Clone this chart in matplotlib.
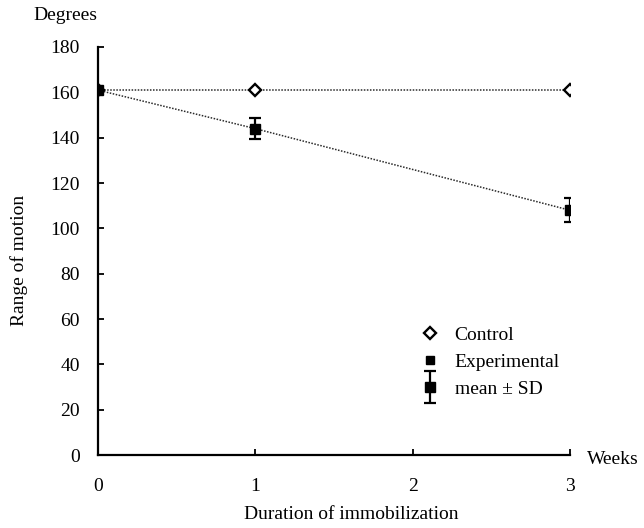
import matplotlib
matplotlib.use("Agg")
import matplotlib.pyplot as plt
from matplotlib.lines import Line2D
from matplotlib.legend_handler import HandlerErrorbar
from matplotlib.container import ErrorbarContainer

plt.rcParams['font.family'] = ['Liberation Serif', 'DejaVu Serif']

# data
weeks = [0, 1, 3]
control = [161, 161, 161]
experimental = [161, 144, 108]
experimental_sd = [0, 4.7, 5.4]
y_ticks = list(range(0, 181, 20))
x_ticks = [0, 1, 2, 3]

FS = 14

fig = plt.figure(figsize=(6.44, 5.28), dpi=100)
ax = fig.add_axes([0.152, 0.138, 0.733, 0.773])

dots = (0, (1, 1))
ax.plot(weeks, control, ls=dots, color='#2a2a2a', lw=1.1, zorder=1)
ax.plot(weeks, experimental, ls=dots, color='#2a2a2a', lw=1.1, zorder=1)

ax.plot(weeks, control, ls='none', marker='D', markersize=6,
        markerfacecolor='white', markeredgecolor='black', markeredgewidth=1.7, zorder=3)
eb = ax.errorbar(weeks, experimental, yerr=experimental_sd, fmt='s', color='black',
                 markersize=7.7, capsize=4.6, elinewidth=1.6, capthick=1.6,
                 errorevery=(1, 1), zorder=4)

ax.set_xlim(0, 3)
ax.set_ylim(0, 180)
ax.set_xticks(x_ticks)
ax.set_yticks(y_ticks)
for s in ['top', 'right']:
    ax.spines[s].set_visible(False)
for s in ['left', 'bottom']:
    ax.spines[s].set_linewidth(1.6)
ax.tick_params(direction='in', length=4, width=1.3, labelsize=FS)
ax.tick_params(axis='x', pad=16.5)
ax.tick_params(axis='y', pad=13)
for sp in ax.spines.values():
    sp.set_clip_on(False)

ax.set_xlabel('Duration of immobilization', fontsize=FS)
ax.xaxis.set_label_coords(0.536, -0.125)
ax.set_ylabel('Range of motion', fontsize=FS)
ax.yaxis.set_label_coords(-0.148, 0.478)
fig.text(33 / 644, 1 - 15 / 528, 'Degrees', fontsize=FS, ha='left', va='center')
fig.text(587 / 644, 1 - 460 / 528, 'Weeks', fontsize=FS, ha='left', va='center')

h_control = Line2D([], [], ls='none', marker='D', markersize=6,
                   markerfacecolor='white', markeredgecolor='black', markeredgewidth=1.7)
h_exp = Line2D([], [], ls='none', marker='s', markersize=6, color='black')
ax.legend([h_control, h_exp, eb], ['Control', 'Experimental', 'mean \u00b1 SD'],
          loc='center left', bbox_to_anchor=(0.682, 0.228), frameon=False,
          borderaxespad=0, borderpad=0,
          fontsize=FS, handlelength=1.0, handletextpad=0.79, labelspacing=0.48,
          handler_map={ErrorbarContainer: HandlerErrorbar(yerr_size=0.8)})

fig.savefig('out.png', dpi=100)
